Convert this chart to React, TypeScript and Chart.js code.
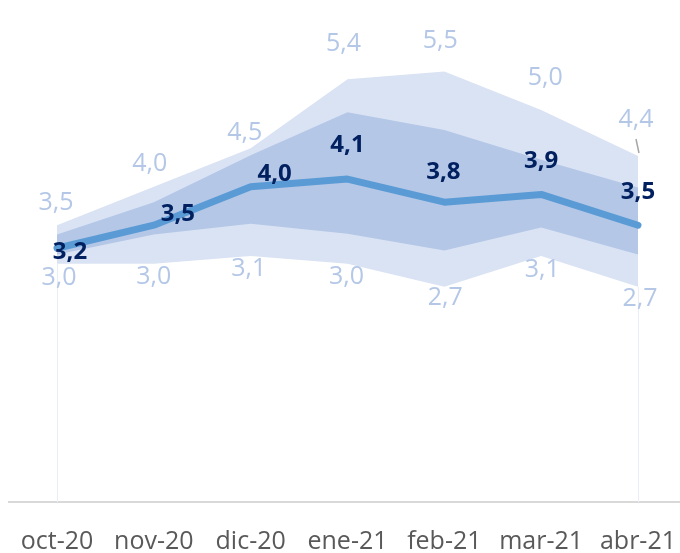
import React, { useEffect, useRef } from "react";
import { Chart, registerables } from "chart.js";

Chart.register(...registerables);

const categories = ["oct-20", "nov-20", "dic-20", "ene-21", "feb-21", "mar-21", "abr-21"];
const outerHigh = [3.5, 4.0, 4.5, 5.4, 5.5, 5.0, 4.4];
const innerHigh = [3.38, 3.8, 4.41, 4.97, 4.74, 4.35, 3.99];
const central = [3.2, 3.5, 4.0, 4.1, 3.8, 3.9, 3.5];
const innerLow = [3.12, 3.38, 3.52, 3.39, 3.17, 3.47, 3.12];
const outerLow = [3.0, 3.0, 3.1, 3.0, 2.7, 3.1, 2.7];

// label nudges (layout only), in pixels [dx, dy]
const highNudge = [[-1, -22], [-4, -23], [-6, -15], [-4, -35], [-4, -31], [4, -32], [-2, -36]];
const centralNudge = [[13, 4], [24, -11], [24, -13], [0, -34], [-1, -30], [0, -33], [0, -33]];
const lowNudge = [[2, 14], [0, 13], [-2, 13], [-1, 13], [1, 11], [1, 14], [2, 12]];

const FONT = "'Open Sans', 'Noto Sans', sans-serif";
const fmt = (v: number) => v.toFixed(1).replace(".", ",");

const fanPlugin = {
  id: "fanLabels",
  beforeDatasetsDraw(chart: any) {
    const { ctx, scales, chartArea } = chart;
    const xs = scales.x;
    const ys = scales.y;
    ctx.save();
    ctx.strokeStyle = "#EAEFF7";
    ctx.lineWidth = 1;
    [0, categories.length - 1].forEach((i) => {
      const x = Math.round(xs.getPixelForValue(i)) + 0.5;
      ctx.beginPath();
      ctx.moveTo(x, chartArea.bottom);
      ctx.lineTo(x, ys.getPixelForValue(outerLow[i]));
      ctx.stroke();
    });
    ctx.restore();
  },
  afterDatasetsDraw(chart: any) {
    const { ctx, scales } = chart;
    const xs = scales.x;
    const ys = scales.y;
    ctx.save();
    ctx.textAlign = "center";
    ctx.textBaseline = "middle";

    // leader line for last upper label
    const li = categories.length - 1;
    const lx = xs.getPixelForValue(li);
    const ly = ys.getPixelForValue(outerHigh[li]);
    ctx.strokeStyle = "#A6A6A6";
    ctx.lineWidth = 1.5;
    ctx.beginPath();
    ctx.moveTo(lx - 2, ly - 17);
    ctx.lineTo(lx + 1, ly - 3);
    ctx.stroke();

    ctx.font = `25px ${FONT}`;
    ctx.fillStyle = "#B4C7E7";
    outerHigh.forEach((v, i) => {
      ctx.fillText(fmt(v), xs.getPixelForValue(i) + highNudge[i][0], ys.getPixelForValue(v) + highNudge[i][1]);
    });
    outerLow.forEach((v, i) => {
      ctx.fillText(fmt(v), xs.getPixelForValue(i) + lowNudge[i][0], ys.getPixelForValue(v) + lowNudge[i][1]);
    });
    ctx.font = `bold 24px ${FONT}`;
    ctx.fillStyle = "#002060";
    central.forEach((v, i) => {
      ctx.fillText(fmt(v), xs.getPixelForValue(i) + centralNudge[i][0], ys.getPixelForValue(v) + centralNudge[i][1]);
    });
    ctx.restore();
  },
};

export default function App() {
  const ref = useRef<HTMLCanvasElement | null>(null);

  useEffect(() => {
    if (!ref.current) return;
    const noPoint = { pointRadius: 0, pointHoverRadius: 0 };
    const chart = new Chart(ref.current, {
      type: "line",
      data: {
        labels: categories,
        datasets: [
          {
            data: central,
            borderColor: "#5B9BD5",
            borderWidth: 7,
            borderCapStyle: "round",
            borderJoinStyle: "round",
            fill: false,
            tension: 0,
            ...noPoint,
          },
          {
            data: innerHigh,
            borderWidth: 0,
            borderColor: "rgba(0,0,0,0)",
            backgroundColor: "#B4C7E7",
            fill: { target: 2 },
            tension: 0,
            ...noPoint,
          },
          {
            data: innerLow,
            borderWidth: 0,
            borderColor: "rgba(0,0,0,0)",
            fill: false,
            tension: 0,
            ...noPoint,
          },
          {
            data: outerHigh,
            borderWidth: 0,
            borderColor: "rgba(0,0,0,0)",
            backgroundColor: "#DAE3F3",
            fill: { target: 4 },
            tension: 0,
            ...noPoint,
          },
          {
            data: outerLow,
            borderWidth: 0,
            borderColor: "rgba(0,0,0,0)",
            fill: false,
            tension: 0,
            ...noPoint,
          },
        ],
      },
      options: {
        responsive: false,
        animation: false,
        devicePixelRatio: 1,
        layout: { padding: { top: 33, left: 8.6, right: 13.6, bottom: 0 } },
        plugins: { legend: { display: false }, tooltip: { enabled: false } },
        scales: {
          x: {
            type: "category",
            offset: true,
            grid: { display: false, drawTicks: false },
            border: { display: true, color: "#D9D9D9", width: 2 },
            ticks: {
              color: "#595959",
              font: { family: FONT, size: 25 },
              padding: 25,
              maxRotation: 0,
              autoSkip: false,
            },
            afterFit: (scale: any) => {
              scale.paddingLeft = 0;
              scale.paddingRight = 0;
            },
          },
          y: { display: false, min: -0.1, max: 6.0 },
        },
      },
      plugins: [fanPlugin],
    } as any);
    return () => chart.destroy();
  }, []);

  return (
    <div style={{ position: "fixed", left: 0, top: 0, width: 680, height: 553, overflow: "hidden", background: "#fff" }}>
      <canvas ref={ref} width={700} height={582} style={{ display: "block", width: 700, height: 582 }} />
    </div>
  );
}
